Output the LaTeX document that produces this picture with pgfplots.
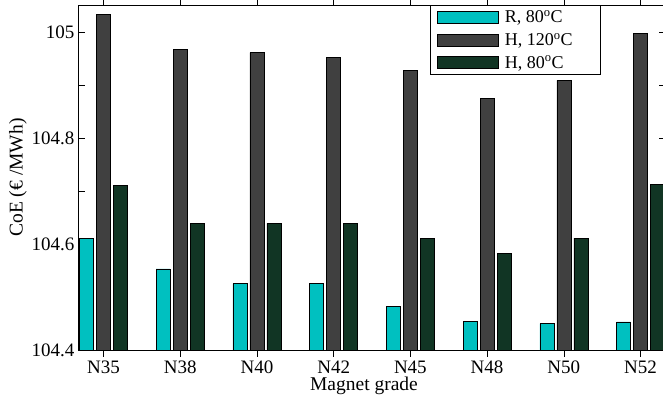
\documentclass[border=0pt]{standalone}
\usepackage{pgfplots}
\pgfplotsset{compat=1.18}
\usepackage{fontspec}
\setmainfont{Liberation Serif}
\definecolor{cR}{RGB}{0,192,192}
\definecolor{cH}{RGB}{64,64,64}
\definecolor{cG}{RGB}{17,53,36}
\newcommand{\lf}{\fontsize{18}{20}\selectfont}
\begin{document}
\begin{tikzpicture}
\begin{axis}[
  at={(78pt,51pt)}, anchor=south west,
  scale only axis, width=588pt, height=345pt,
  xmin=-0.332, xmax=7.332, ymin=104.4, ymax=105.051,
  ybar,
  bar width=14pt,
  xtick={0,1,2,3,4,5,6,7},
  xticklabels={N35,N38,N40,N42,N45,N48,N50,N52},
  ytick={104.4,104.6,104.8,105},
  yticklabels={104.4,104.6,104.8,105},
  minor ytick={104.5,104.7,104.9},
  major tick length=7pt, minor tick length=7pt,
  tick style={black, line width=0.6pt},
  axis line style={line width=0.8pt},
  tick label style={font=\fontsize{19}{21}\selectfont},
  label style={font=\fontsize{19.5}{22}\selectfont},
  xlabel={Magnet grade},
  ylabel={CoE (€ /MWh)},
  xlabel style={yshift=3pt, xshift=-8pt},
  ylabel style={yshift=-2pt},
  legend style={at={(0.599,1.0)}, anchor=north west, draw=black, line width=0.8pt,
    font=\lf, inner xsep=6pt, inner ysep=3pt,
    row sep=5pt, cells={anchor=west}, nodes={font=\lf}},
  legend image code/.code={\draw[#1, line width=0.6pt] (0pt,-6pt) rectangle (61pt,6pt); \path[draw=none, fill=none] (61pt,0pt) -- (66pt,0pt);},
  every axis plot/.append style={draw=black, line width=0.6pt},
]
\addplot[fill=cR, bar shift=-17pt] coordinates {(0,104.611) (1,104.553) (2,104.525) (3,104.525) (4,104.482) (5,104.454) (6,104.450) (7,104.453)};
\addplot[fill=cH, bar shift=0pt] coordinates {(0,105.034) (1,104.967) (2,104.961) (3,104.952) (4,104.928) (5,104.874) (6,104.909) (7,104.998)};
\addplot[fill=cG, bar shift=17pt] coordinates {(0,104.711) (1,104.639) (2,104.639) (3,104.639) (4,104.611) (5,104.582) (6,104.611) (7,104.713)};
\legend{{\lf R, 80\textsuperscript{o}C}, {\lf H, 120\textsuperscript{o}C\hspace*{20pt}}, {\lf H, 80\textsuperscript{o}C}}
\end{axis}
\pgfresetboundingbox
\useasboundingbox (0,0) rectangle (663pt,401pt);
\end{tikzpicture}
\end{document}
